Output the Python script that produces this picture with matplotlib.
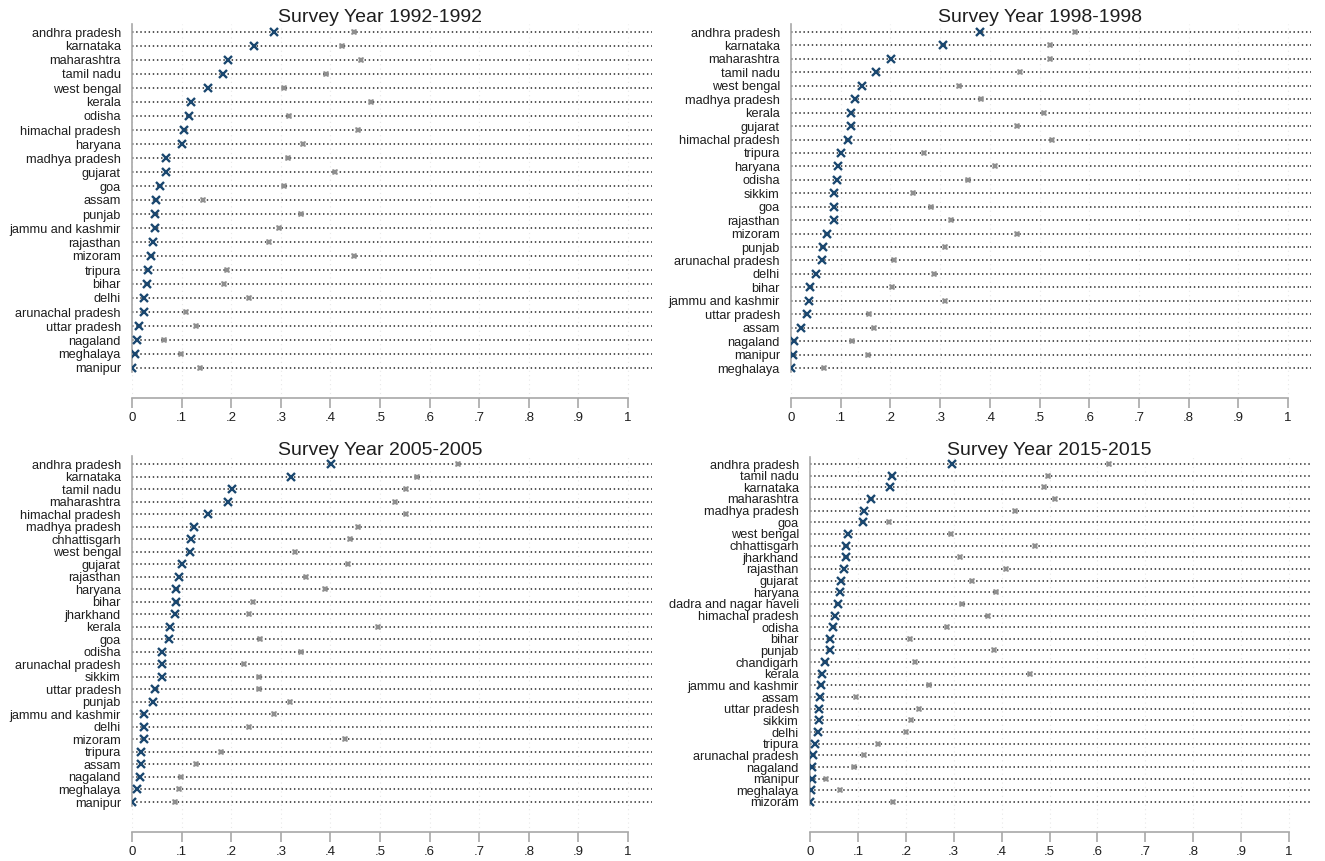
import matplotlib
matplotlib.use("Agg")
import matplotlib.pyplot as plt

plt.rcParams['font.family'] = ['Liberation Sans', 'DejaVu Sans']

# ---------------- data ----------------
titles = ["Survey Year 1992-1992", "Survey Year 1998-1998",
          "Survey Year 2005-2005", "Survey Year 2015-2015"]

states_1992 = ["andhra pradesh", "karnataka", "maharashtra", "tamil nadu", "west bengal",
               "kerala", "odisha", "himachal pradesh", "haryana", "madhya pradesh",
               "gujarat", "goa", "assam", "punjab", "jammu and kashmir", "rajasthan",
               "mizoram", "tripura", "bihar", "delhi", "arunachal pradesh",
               "uttar pradesh", "nagaland", "meghalaya", "manipur"]
blue_1992 = [0.287, 0.246, 0.193, 0.183, 0.153, 0.119, 0.115, 0.105, 0.100, 0.069,
             0.069, 0.057, 0.049, 0.047, 0.047, 0.043, 0.039, 0.033, 0.031, 0.025,
             0.025, 0.014, 0.010, 0.007, 0.0]
grey_1992 = [0.447, 0.424, 0.461, 0.392, 0.307, 0.482, 0.316, 0.456, 0.345, 0.314,
             0.410, 0.307, 0.143, 0.340, 0.297, 0.277, 0.447, 0.192, 0.185, 0.235,
             0.108, 0.129, 0.065, 0.099, 0.137]

states_1998 = ["andhra pradesh", "karnataka", "maharashtra", "tamil nadu", "west bengal",
               "madhya pradesh", "kerala", "gujarat", "himachal pradesh", "tripura",
               "haryana", "odisha", "sikkim", "goa", "rajasthan", "mizoram", "punjab",
               "arunachal pradesh", "delhi", "bihar", "jammu and kashmir",
               "uttar pradesh", "assam", "nagaland", "manipur", "meghalaya"]
blue_1998 = [0.380, 0.306, 0.201, 0.171, 0.143, 0.129, 0.121, 0.120, 0.114, 0.100,
             0.095, 0.092, 0.086, 0.087, 0.087, 0.073, 0.065, 0.062, 0.051, 0.039,
             0.037, 0.032, 0.020, 0.006, 0.005, 0.0]
grey_1998 = [0.572, 0.521, 0.521, 0.460, 0.339, 0.382, 0.509, 0.454, 0.525, 0.268,
             0.410, 0.356, 0.246, 0.281, 0.322, 0.454, 0.309, 0.207, 0.287, 0.203,
             0.309, 0.156, 0.168, 0.123, 0.155, 0.066]

states_2005 = ["andhra pradesh", "karnataka", "tamil nadu", "maharashtra",
               "himachal pradesh", "madhya pradesh", "chhattisgarh", "west bengal",
               "gujarat", "rajasthan", "haryana", "bihar", "jharkhand", "kerala", "goa",
               "odisha", "arunachal pradesh", "sikkim", "uttar pradesh", "punjab",
               "jammu and kashmir", "delhi", "mizoram", "tripura", "assam", "nagaland",
               "meghalaya", "manipur"]
blue_2005 = [0.402, 0.321, 0.201, 0.193, 0.154, 0.124, 0.118, 0.116, 0.101, 0.094,
             0.089, 0.089, 0.087, 0.077, 0.075, 0.060, 0.060, 0.060, 0.047, 0.043,
             0.025, 0.025, 0.024, 0.019, 0.019, 0.016, 0.011, 0.0]
grey_2005 = [0.658, 0.574, 0.553, 0.531, 0.553, 0.456, 0.440, 0.328, 0.435, 0.350,
             0.389, 0.244, 0.236, 0.496, 0.258, 0.340, 0.225, 0.256, 0.256, 0.318,
             0.286, 0.236, 0.430, 0.180, 0.130, 0.099, 0.094, 0.086]

states_2015 = ["andhra pradesh", "tamil nadu", "karnataka", "maharashtra",
               "madhya pradesh", "goa", "west bengal", "chhattisgarh", "jharkhand",
               "rajasthan", "gujarat", "haryana", "dadra and nagar haveli",
               "himachal pradesh", "odisha", "bihar", "punjab", "chandigarh", "kerala",
               "jammu and kashmir", "assam", "uttar pradesh", "sikkim", "delhi",
               "tripura", "arunachal pradesh", "nagaland", "manipur", "meghalaya",
               "mizoram"]
blue_2015 = [0.297, 0.171, 0.166, 0.128, 0.113, 0.111, 0.079, 0.076, 0.075, 0.071,
             0.065, 0.062, 0.058, 0.053, 0.047, 0.041, 0.041, 0.031, 0.025, 0.022,
             0.020, 0.019, 0.018, 0.016, 0.010, 0.007, 0.004, 0.004, 0.003, 0.0]
grey_2015 = [0.624, 0.496, 0.488, 0.512, 0.427, 0.164, 0.295, 0.469, 0.313, 0.410,
             0.339, 0.388, 0.317, 0.371, 0.286, 0.208, 0.384, 0.220, 0.459, 0.248,
             0.097, 0.227, 0.211, 0.200, 0.142, 0.113, 0.091, 0.034, 0.062, 0.174]

xticks = [0, 0.1, 0.2, 0.3, 0.4, 0.5, 0.6, 0.7, 0.8, 0.9, 1.0]
xticklabels = ["0", ".1", ".2", ".3", ".4", ".5", ".6", ".7", ".8", ".9", "1"]

# ---------------- layout (pixels) ----------------
W, H = 1325, 861
fig = plt.figure(figsize=(W / 100, H / 100), dpi=100)
fig.patch.set_facecolor("white")

# x0 (value 0), x1 (value 1), right end of lines, first row y, last row y, axis y, title y
layouts = [
    (132, 628, 652, 32, 368, 398, 18),
    (791, 1288, 1311, 32, 368, 398, 18),
    (132, 628, 652, 464, 802, 832, 450),
    (810, 1289, 1311, 464, 802, 832, 450),
]
panels = [
    (states_1992, blue_1992, grey_1992),
    (states_1998, blue_1998, grey_1998),
    (states_2005, blue_2005, grey_2005),
    (states_2015, blue_2015, grey_2015),
]

BLUE = "#1a476f"
GREY = "#8f8f8f"

for (states, blue, grey), title, (x0, x1, xr, ytop, ybot, yax, ytitle) in zip(panels, titles, layouts):
    n = len(states)
    top_px = ytop - 8
    ax = fig.add_axes([x0 / W, 1 - yax / H, (xr - x0) / W, (yax - top_px) / H])
    s = (ybot - ytop) / (n - 1)
    xmax = (xr - x0) / (x1 - x0)
    ax.set_xlim(0, xmax)
    ax.set_ylim((n - 1) + (yax - ybot) / s, -(ytop - top_px) / s)

    # faint vertical grid
    for t in xticks:
        ax.axvline(t, color="#e8e8e8", lw=0.8, ls=(0, (1, 3)), zorder=0)

    rows = list(range(n))
    ax.hlines(rows, 0, xmax, colors="#2e2e2e", linewidth=1.15,
              linestyles=(0, (0.9, 1.7)), zorder=1)
    ax.plot(grey, rows, ls="none", marker="X", ms=4.5, color=GREY, mew=0, zorder=2)
    ax.plot(blue, rows, ls="none", marker="x", ms=5.5, mew=1.7, color=BLUE, zorder=3)

    ax.set_yticks(rows)
    ax.set_yticklabels(states, fontsize=9.2, color="#1e1e1e")
    ax.tick_params(axis="y", length=0, pad=8)

    ax.set_xticks(xticks)
    ax.set_xticklabels(xticklabels, fontsize=9.5, color="#1e1e1e")
    ax.tick_params(axis="x", direction="out", length=7, width=1.2, color="#a8a8a8", pad=3)

    for sp in ["top", "right"]:
        ax.spines[sp].set_visible(False)
    ax.spines["bottom"].set_bounds(0, 1)
    ax.spines["bottom"].set_color("#a8a8a8")
    ax.spines["bottom"].set_linewidth(1.2)
    ax.spines["left"].set_bounds(-0.6, (n - 1) + 0.3)
    ax.spines["left"].set_color("#a8a8a8")
    ax.spines["left"].set_linewidth(1.2)
    ax.set_facecolor("none")

    fig.text(((x0 + x1) / 2) / W, 1 - ytitle / H, title, ha="center", va="center",
             fontsize=14, color="#1e1e1e")

fig.savefig("out.png", dpi=100)
